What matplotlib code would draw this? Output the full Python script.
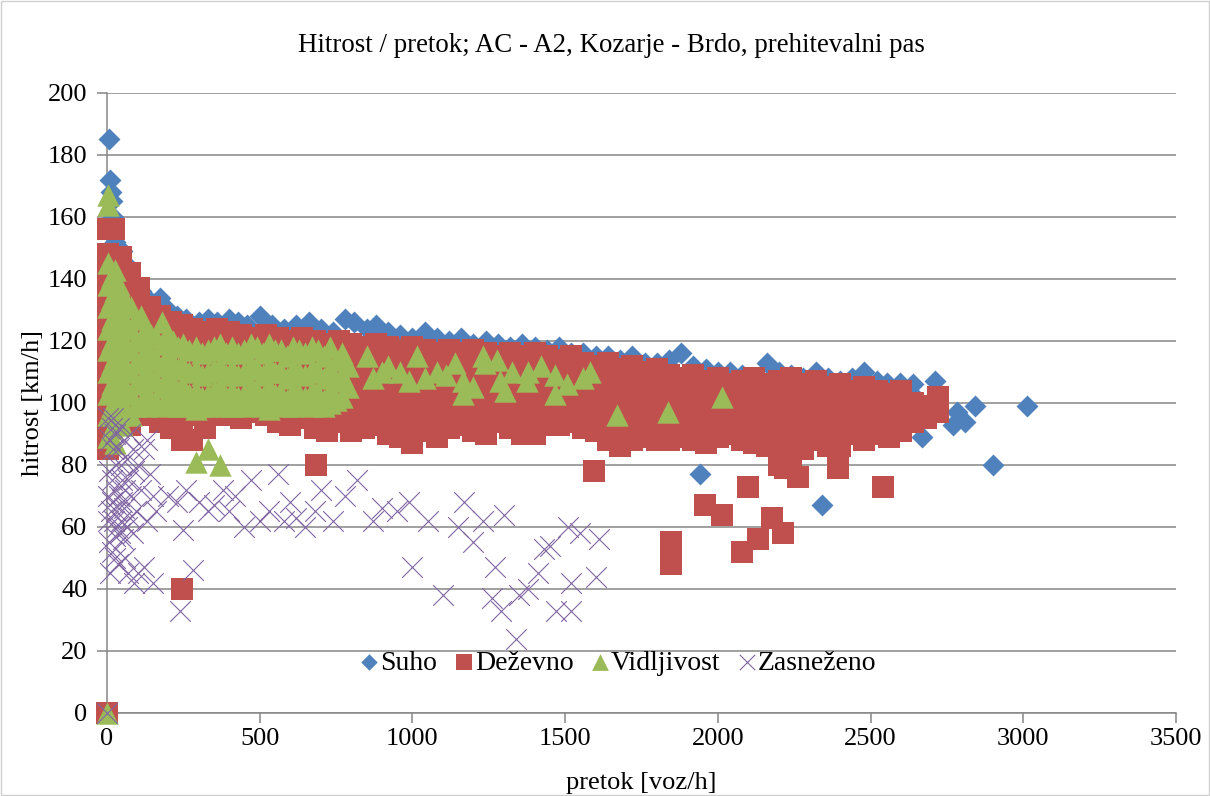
import matplotlib
matplotlib.use("Agg")
import matplotlib.pyplot as plt
from matplotlib.patches import Rectangle

plt.rcParams['font.family'] = ['Liberation Serif', 'DejaVu Serif']

# Suho (dry)
suho_x = [0, 8, 10, 12, 15, 20, 25, 40, 50, 60, 75, 90, 110, 130, 150, 175, 200, 230, 260,
          300, 330, 360, 400, 430, 460, 500, 540, 580, 620, 660, 700, 740, 780, 810, 850,
          880, 920, 960, 1000, 1040, 1080, 1120, 1160, 1200, 1240, 1280, 1320, 1360, 1400,
          1440, 1480, 1520, 1560, 1600, 1640, 1680, 1720, 1760, 1800, 1840, 1880, 1920,
          1960, 2000, 2040, 2080, 2120, 2160, 2200, 2240, 2280, 2320, 2360, 2400, 2440,
          2480, 2520, 2553, 2596, 2639, 2655, 2668, 2711, 2770, 2783, 2809, 2842, 2901,
          3012, 1941, 2341]
suho_y = [0, 185, 172, 168, 165, 160, 152, 150, 149, 145, 140, 138, 136, 134, 132, 134, 130, 128, 127,
          126, 127, 126, 127, 126, 125, 128, 125, 124, 125, 126, 124, 123, 127, 126, 124,
          125, 123, 122, 121, 123, 121, 120, 121, 119, 120, 119, 118, 119, 118,
          117, 118, 116, 116, 115, 115, 114, 115, 113, 113, 114, 116, 112,
          111, 110, 110, 109, 108, 113, 110, 109, 108, 110, 108, 107, 108,
          110, 107, 106.5, 106.5, 106, 101, 89, 107, 93, 97, 94, 99, 80,
          99, 77, 67]

# Dezevno (rain)
dez_x = [0,
         5, 5, 5, 5, 5, 5, 5, 5, 5, 5, 5,
         22, 22, 22, 22,
         45, 45, 45, 45, 45, 45, 45, 45,
         75, 75, 75, 75, 75, 75, 75, 75,
         105, 105, 105, 105, 105, 105, 105,
         140, 140, 140, 140, 140, 140,
         175, 175, 175, 175, 175, 175,
         210, 210, 210, 210, 210, 210,
         245, 245, 245, 245, 245, 245, 245,
         280, 280, 280, 280, 280, 280,
         320, 320, 320, 320, 320, 320,
         360, 360, 360, 360, 360,
         400, 400, 400, 400, 400,
         440, 440, 440, 440, 440,
         480, 480, 480, 480, 480,
         520, 520, 520, 520, 520,
         560, 560, 560, 560, 560,
         600, 600, 600, 600, 600,
         640, 640, 640, 640, 640,
         680, 680, 680, 680, 680,
         720, 720, 720, 720, 720,
         760, 760, 760, 760, 760,
         800, 800, 800, 800, 800,
         840, 840, 840, 840, 840,
         880, 880, 880, 880, 880,
         920, 920, 920, 920, 920,
         960, 960, 960, 960, 960,
         1000, 1000, 1000, 1000, 1000, 1000,
         1040, 1040, 1040, 1040, 1040,
         1080, 1080, 1080, 1080, 1080,
         1120, 1120, 1120, 1120, 1120,
         1160, 1160, 1160, 1160, 1160,
         1200, 1200, 1200, 1200, 1200,
         1240, 1240, 1240, 1240, 1240,
         1280, 1280, 1280, 1280, 1280,
         1320, 1320, 1320, 1320, 1320,
         1360, 1360, 1360, 1360, 1360,
         1400, 1400, 1400, 1400, 1400,
         1440, 1440, 1440, 1440, 1440,
         1480, 1480, 1480, 1480, 1480,
         1520, 1520, 1520, 1520,
         1560, 1560, 1560, 1560,
         1600, 1600, 1600, 1600,
         1640, 1640, 1640, 1640, 1640,
         1680, 1680, 1680, 1680, 1680,
         1720, 1720, 1720, 1720, 1720,
         1760, 1760, 1760, 1760,
         1800, 1800, 1800, 1800, 1800,
         1840, 1840, 1840, 1840,
         1880, 1880, 1880, 1880,
         1920, 1920, 1920, 1920,
         1960, 1960, 1960, 1960,
         2000, 2000, 2000, 2000,
         2040, 2040, 2040, 2040,
         2080, 2080, 2080, 2080,
         2120, 2120, 2120, 2120,
         2160, 2160, 2160, 2160,
         2200, 2200, 2200, 2200, 2200,
         2240, 2240, 2240, 2240, 2240,
         2280, 2280, 2280, 2280,
         2320, 2320, 2320, 2320,
         2360, 2360, 2360, 2360,
         2400, 2400, 2400, 2400,
         2440, 2440, 2440,
         2480, 2480, 2480, 2480,
         2520, 2520, 2520,
         2560, 2560, 2560,
         2600, 2600, 2600,
         2640, 2640,
         2680, 2680,
         2720, 2720,
         245, 684, 1594, 1958, 2013, 1846, 1846, 2099, 2079, 2131, 2177, 2214,
         2220, 2262, 2393, 2541]
dez_y = [0,
         156, 148, 141, 134, 127, 120, 113, 106, 99, 92, 85,
         156, 147, 140, 133,
         147, 140, 133, 126, 119, 112, 105, 98,
         142, 135, 128, 121, 114, 107, 100, 93,
         137, 130, 123, 116, 109, 102, 96,
         131, 124, 117, 110, 103, 97,
         128, 121, 114, 107, 100, 94,
         126, 119, 112, 105, 98, 92,
         125, 118, 111, 104, 97, 90, 88,
         124, 117, 110, 103, 96, 88,
         123, 116, 109, 102, 95, 92,
         124, 117, 110, 103, 96,
         123, 116, 109, 102, 96,
         122, 115, 108, 101, 95,
         121, 114, 107, 100, 97,
         122, 115, 108, 101, 96,
         121, 114, 107, 100, 94,
         120, 113, 106, 99, 93,
         121, 114, 107, 100, 95,
         120, 113, 106, 99, 92,
         119, 112, 105, 98, 91,
         120, 113, 106, 99, 94,
         119, 112, 105, 98, 91,
         118, 111, 104, 97, 92,
         119, 112, 105, 98, 93,
         118, 111, 104, 97, 90,
         117, 110, 103, 96, 89,
         118, 111, 104, 97, 90, 87,
         117, 110, 103, 96, 91,
         116, 109, 102, 95, 89,
         117, 110, 103, 96, 92,
         116, 109, 102, 95, 93,
         117, 110, 103, 96, 91,
         116, 109, 102, 95, 90,
         115, 108, 101, 94, 97,
         116, 109, 102, 95, 92,
         115, 108, 101, 94, 90,
         116, 109, 102, 95, 90,
         115, 108, 101, 94, 93,
         114, 107, 100, 93, 96,
         115, 108, 101, 94,
         113, 106, 99, 92,
         112, 105, 98, 91,
         113, 106, 99, 92, 88,
         111, 104, 97, 90, 86,
         112, 105, 98, 91, 88,
         110, 103, 96, 89,
         111, 104, 97, 90, 88,
         109, 102, 95, 88,
         108, 101, 94, 89,
         109, 102, 95, 88,
         107, 100, 93, 87,
         108, 101, 94, 89,
         106, 99, 92, 90,
         107, 100, 93, 88,
         108, 101, 94, 87,
         106, 99, 92, 86,
         107, 100, 93, 86, 80,
         108, 101, 94, 87, 80,
         106, 99, 92, 85,
         107, 100, 93, 88,
         105, 98, 91, 86,
         106, 99, 92, 86,
         104, 97, 90,
         105, 98, 91, 88,
         104, 97, 90,
         103, 96, 89,
         104, 97, 91,
         100, 94,
         99, 95,
         102, 97,
         40, 80, 78, 67, 64, 55, 48, 73, 52, 56, 63, 58,
         79, 76, 79, 73]

# Vidljivost (visibility)
vid_x = [0,
         5, 5, 5, 5, 5, 5, 5, 5, 5, 5, 5,
         15, 15, 15, 15, 15, 15, 15, 15,
         25, 25, 25, 25, 25, 25, 25, 25, 25,
         38, 38, 38, 38, 38, 38, 38,
         50, 50, 50, 50, 50, 50, 50,
         65, 65, 65, 65, 65, 65,
         80, 80, 80, 80, 80, 80,
         95, 95, 95, 95, 95,
         110, 110, 110, 110, 110,
         128, 128, 128, 128, 128,
         145, 145, 145, 145,
         162, 162, 162, 162,
         180, 180, 180, 180, 180,
         198, 198, 198, 198,
         215, 215, 215, 215,
         232, 232, 232, 232,
         250, 250, 250, 250,
         270, 270, 270, 270,
         290, 290, 290, 290, 290,
         310, 310, 310, 310,
         330, 330, 330, 330, 330,
         350, 350, 350, 350,
         370, 370, 370, 370, 370,
         390, 390, 390, 390,
         410, 410, 410, 410,
         430, 430, 430, 430,
         450, 450, 450, 450,
         470, 470, 470, 470,
         490, 490, 490, 490,
         510, 510, 510, 510,
         530, 530, 530, 530,
         550, 550, 550, 550,
         570, 570, 570, 570,
         590, 590, 590, 590,
         610, 610, 610, 610,
         630, 630, 630, 630,
         650, 650, 650, 650,
         670, 670, 670, 670,
         690, 690, 690,
         710, 710, 710, 710,
         730, 730, 730, 730,
         750, 750, 750,
         770, 770, 770,
         790, 790,
         851, 870, 920, 960, 1015, 1040, 1080, 1139, 1166, 1166, 1231, 1238,
         1277, 1287, 1303, 1326, 1378, 1375, 1467, 1467, 1506, 1581, 1670,
         1837, 2013, 900, 990, 1110, 1200, 1420, 1560]
vid_y = [0,
         167, 164, 145, 138, 131, 124, 117, 110, 103, 96, 89,
         141, 134, 127, 120, 113, 106, 99, 92,
         143, 136, 129, 122, 115, 108, 101, 94, 87,
         138, 131, 124, 117, 110, 103, 96,
         135, 128, 121, 114, 107, 100, 93,
         132, 125, 118, 111, 104, 97,
         131, 124, 117, 110, 103, 96,
         127, 120, 113, 106, 99,
         128, 121, 114, 107, 100,
         124, 117, 110, 103, 99,
         122, 115, 108, 101,
         121, 114, 107, 100,
         126, 119, 112, 105, 99,
         122, 115, 108, 101,
         120, 113, 106, 100,
         118, 111, 104, 99,
         119, 112, 105, 99,
         117, 110, 103, 100,
         118, 111, 104, 98, 81,
         116, 109, 102, 99,
         117, 110, 103, 99, 85,
         118, 111, 104, 100,
         119, 112, 105, 100, 80,
         116, 109, 102, 99,
         118, 111, 104, 99,
         116, 109, 102, 100,
         117, 110, 103, 99,
         119, 112, 105, 100,
         118, 111, 104, 100,
         116, 109, 102, 99,
         119, 112, 105, 98,
         117, 110, 103, 100,
         117, 110, 103, 100,
         115, 108, 101, 99,
         118, 111, 104, 99,
         117, 110, 103, 100,
         116, 109, 102, 100,
         118, 111, 104, 99,
         117, 110, 103,
         115, 108, 101, 99,
         118, 111, 104, 100,
         114, 107, 101,
         116, 109, 102,
         112, 105,
         115, 108, 112, 110, 115, 108, 110, 113, 107, 103, 115, 113,
         114, 107, 104, 110, 110, 107, 109, 103, 106, 110, 96,
         97, 102, 110, 107, 109, 105, 112, 108]

# Zasnezeno (snow)
zas_x = [0, 5, 10, 15, 20, 25, 30, 8, 18, 28, 38, 48, 12, 22, 32, 42, 52, 6, 16, 26,
         36, 10, 45, 55, 60, 65, 70, 75, 80, 85, 90, 95, 35, 45, 55, 65, 75, 85, 100,
         110, 120, 130, 140, 150, 60, 70, 100, 120, 90, 150, 130, 160, 5, 5, 15, 25,
         50, 40, 20, 30,
         200, 230, 260, 249, 239, 282, 300, 330, 350, 380, 400, 420, 450, 470, 500,
         530, 560, 580, 600, 620, 650, 680, 700, 740, 780, 820, 870, 900, 950, 990,
         1000, 1050, 1100, 1150, 1170, 1200, 1230, 1260, 1270, 1300, 1290, 1340,
         1350, 1380, 1410, 1430, 1450, 1470, 1510, 1520, 1520, 1550, 1600, 1610]
zas_y = [0, 95, 88, 92, 85, 90, 80, 78, 75, 72, 70, 68, 65, 62, 60, 58, 56, 55, 52, 50,
         48, 45, 62, 66, 72, 60, 75, 63, 70, 58, 78, 65, 85, 80, 88, 82, 90, 85, 80,
         72, 85, 88, 77, 70, 50, 45, 45, 47, 42, 42, 62, 65, 62, 70, 68, 57,
         75, 92, 95, 65,
         70, 68, 72, 59, 33, 46, 68, 65, 67, 72, 65, 70, 60, 75, 62,
         65, 77, 62, 68, 63, 60, 65, 72, 62, 70, 75, 62, 66, 65, 68,
         47, 62, 38, 60, 68, 55, 62, 37, 47, 64, 33, 24,
         38, 40, 45, 53, 54, 33, 60, 42, 33, 58, 44, 56]

fig = plt.figure(figsize=(12.1, 7.96), dpi=100)
ax = fig.add_axes([0.0884, 0.1043, 0.8835, 0.779])

ax.scatter(suho_x, suho_y, marker='D', s=125, c='#4F81BD', linewidths=0, clip_on=False, zorder=3, label='Suho')
ax.scatter(dez_x, dez_y, marker='s', s=245, c='#C0504D', linewidths=0, clip_on=False, zorder=4, label='Deževno')
ax.scatter(vid_x, vid_y, marker='^', s=260, c='#9BBB59', linewidths=0, clip_on=False, zorder=5, label='Vidljivost')
ax.scatter(zas_x, zas_y, marker='x', s=220, c='#8064A2', linewidths=0.8, clip_on=False, zorder=6, label='Zasneženo')

ax.set_xlim(0, 3500)
ax.set_ylim(0, 200)
ax.set_xticks(range(0, 3501, 500))
ax.set_yticks(range(0, 201, 20))
ax.grid(axis='y', color='#868686', linewidth=1.1, zorder=1)
ax.set_axisbelow(True)
for side in ['top', 'right']:
    ax.spines[side].set_visible(False)
for side in ['left', 'bottom']:
    ax.spines[side].set_color('#868686')
    ax.spines[side].set_linewidth(1.1)
ax.tick_params(axis='both', labelsize=19, color='#868686', width=1.1, length=7, direction='out')
ax.tick_params(axis='y', pad=7)

ax.set_xlabel('pretok [voz/h]', fontsize=19, labelpad=16)
ax.set_ylabel('hitrost [km/h]', fontsize=19, labelpad=3)
fig.text(0.505, 0.943, 'Hitrost / pretok; AC - A2, Kozarje - Brdo, prehitevalni pas',
         fontsize=19.4, ha='center', va='center')

fig.legend(loc='center', bbox_to_anchor=(618 / 1210, 1 - 663 / 796), ncol=4, frameon=False,
           fontsize=20, markerscale=0.75, handlelength=0.7, handletextpad=0.05,
           columnspacing=0.6, borderaxespad=0)

fig.patches.append(Rectangle((0.001, 0.001), 0.998, 0.998, transform=fig.transFigure,
                             fill=False, edgecolor='#d0d0d0', linewidth=1))

fig.savefig('out.png', dpi=100)
